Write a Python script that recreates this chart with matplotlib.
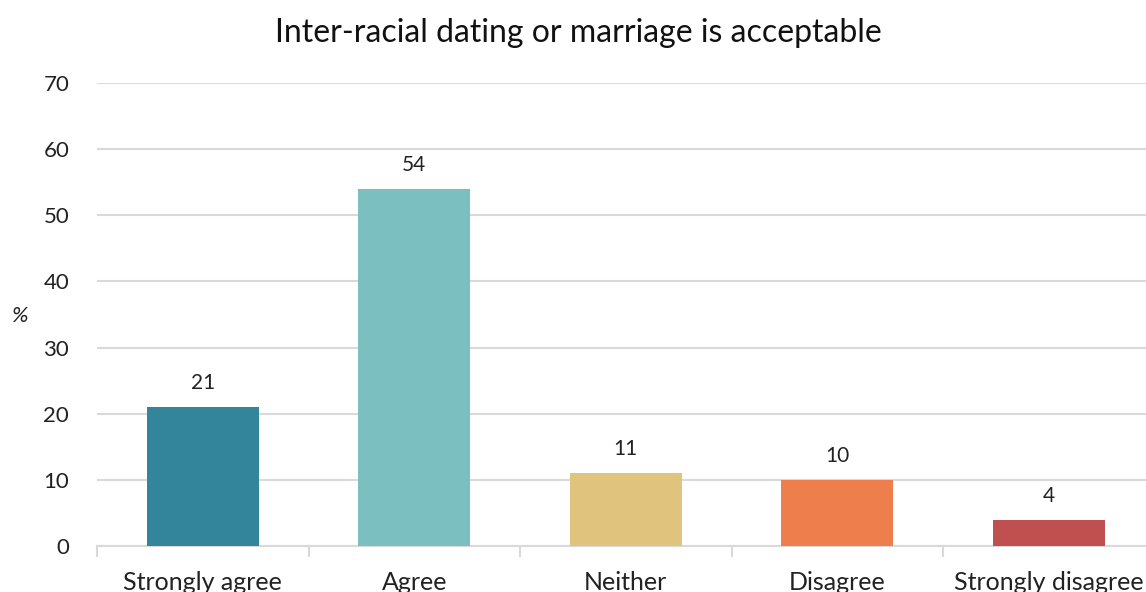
import matplotlib
matplotlib.use("Agg")
import matplotlib.pyplot as plt
from matplotlib.ticker import FixedLocator, NullFormatter

plt.rcParams['font.family'] = ['Lato', 'DejaVu Sans']

categories = ["Strongly agree", "Agree", "Neither", "Disagree", "Strongly disagree"]
values = [21, 54, 11, 10, 4]
colors = ["#32859b", "#7bbfc0", "#e0c47e", "#ee7f4d", "#c0504f"]
y_ticks = [0, 10, 20, 30, 40, 50, 60, 70]
title = "Inter-racial dating or marriage is acceptable"

W, H = 1146, 592
fig = plt.figure(figsize=(W / 100, H / 100), dpi=100)
left, right, bottom, top = 97, 1154.5, 546, 83
ax = fig.add_axes([left / W, 1 - bottom / H, (right - left) / W, (bottom - top) / H])

x = list(range(len(categories)))
bars = ax.bar(x, values, width=0.53, color=colors, zorder=3)

ax.set_xlim(-0.5, len(categories) - 0.5)
ax.set_ylim(0, 70)
ax.set_yticks(y_ticks)
ax.set_yticklabels([str(t) for t in y_ticks], fontsize=16, color="#222222")
ax.tick_params(axis="y", length=0, pad=20)
ax.yaxis.grid(True, color="#d9d9d9", linewidth=1.5, zorder=0)

# category labels centred under bars, separator ticks between categories
ax.set_xticks(x)
ax.set_xticklabels(categories, fontsize=18, color="#222222")
ax.tick_params(axis="x", which="major", length=0, pad=18)
ax.xaxis.set_minor_locator(FixedLocator([i - 0.5 for i in range(len(categories) + 1)]))
ax.xaxis.set_minor_formatter(NullFormatter())
ax.tick_params(axis="x", which="minor", length=8, width=1.5, color="#d9d9d9")

for s in ["left", "right", "top"]:
    ax.spines[s].set_visible(False)
ax.spines["bottom"].set_color("#d9d9d9")
ax.spines["bottom"].set_linewidth(1.5)

for rect, v in zip(bars, values):
    ax.annotate(str(v), (rect.get_x() + rect.get_width() / 2, v),
                xytext=(0, 10), textcoords="offset points",
                ha="center", va="bottom", fontsize=15, color="#222222")

fig.text(578 / W, 1 - 33 / H, title, ha="center", va="center", fontsize=23, color="#111111")
fig.text(20 / W, 1 - 316 / H, "%", ha="center", va="center", fontsize=16,
         style="italic", color="#222222")

fig.savefig("out.png", dpi=100)
